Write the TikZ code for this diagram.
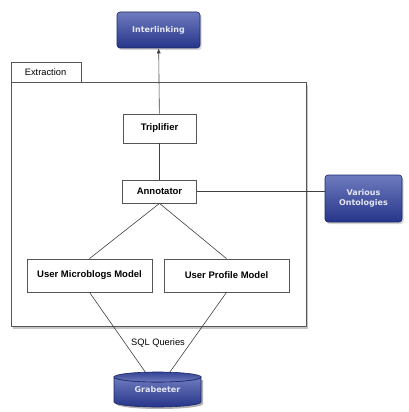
\documentclass[tikz,border=0pt]{standalone}
\usepackage{fontspec}
\setmainfont{Liberation Sans}
\newfontfamily\bluefont{DejaVu Sans}
\usetikzlibrary{shadows,arrows.meta,calc}
\definecolor{navytop}{HTML}{6E7BBE}
\definecolor{navybot}{HTML}{26358A}
\definecolor{navyline}{HTML}{1C2866}
\definecolor{bluetext}{HTML}{E4E7F2}
\definecolor{frameline}{HTML}{555555}
\tikzset{
  whitebox/.style={draw=frameline, line width=0.8pt, fill=white, font=\fontsize{9.5}{11}\selectfont\bfseries, inner sep=0pt},
  bluebox/.style={draw=navyline, line width=0.6pt, rounded corners=3pt, top color=navytop, bottom color=navybot, text=bluetext, font=\bluefont\fontsize{8}{10}\selectfont\bfseries, align=center, inner sep=0pt, drop shadow={shadow xshift=1.5pt, shadow yshift=-2pt, opacity=0.35}},
  conn/.style={draw=black!75, line width=0.6pt},
  plainlbl/.style={font=\fontsize{9.3}{11}\selectfont, inner sep=1pt}
}
\begin{document}
\begin{tikzpicture}[x=1pt,y=-1pt]
\useasboundingbox (0,0) rectangle (408,412);
% frame
\draw[frameline, line width=0.9pt, fill=white, drop shadow={shadow xshift=2pt, shadow yshift=-3pt, opacity=0.45}] (11,82) rectangle (306,326);
\draw[frameline, line width=0.9pt, fill=white] (11,62) rectangle (81,82);
\node[plainlbl] (extr) at (45.5,72) {Extraction};
% nodes
\node[bluebox, minimum width=83pt, minimum height=36pt] (inter) at (158.5,30) {Interlinking};
\node[whitebox, minimum width=73pt, minimum height=29pt] (trip) at (159.5,128.5) {Triplifier};
\node[whitebox, minimum width=74pt, minimum height=23pt] (ann) at (159.5,191.5) {Annotator};
\node[bluebox, minimum width=77pt, minimum height=47pt] (onto) at (363.5,198.5) {Various\\Ontologies};
\node[whitebox, minimum width=125pt, minimum height=33pt] (micro) at (89.5,275.5) {User Microblogs Model};
\node[whitebox, minimum width=125pt, minimum height=33pt] (prof) at (226.5,275.5) {User Profile Model};
% cylinder
\coordinate (cylc) at (157.5,389.5);
\fill[black, opacity=0.3] (116,380) -- (116,404) arc[start angle=180, end angle=360, x radius=43.5pt, y radius=5pt] -- (203,380) -- cycle;
\shade[top color=navytop, bottom color=navybot, draw=navyline, line width=0.6pt]
  (114,377) -- (114,402) arc[start angle=180, end angle=360, x radius=43.5pt, y radius=5pt] -- (201,377) arc[start angle=0, end angle=-180, x radius=43.5pt, y radius=5pt] -- cycle;
\shade[top color=navybot!80!navytop, bottom color=navytop, draw=navyline, line width=0.6pt] (157.5,377) ellipse[x radius=43.5pt, y radius=5pt];
\node[minimum width=87pt, minimum height=35pt, inner sep=0pt, text=bluetext, font=\bluefont\fontsize{8}{10}\selectfont\bfseries] (grab) at (cylc) {\raisebox{-3pt}{Grabeeter}};
% connectors
\draw[conn, -{Latex[length=5pt,width=4pt]}] (trip) -- (inter);
\draw[conn] (trip) -- (ann);
\draw[conn] (ann.east) -- (ann.east -| onto.west);
\draw[conn] (ann.south) -- (micro.north);
\draw[conn] (ann.south) -- (prof.north);
\draw[conn] (micro.south) -- (grab);
\draw[conn] (prof.south) -- (grab);
\node[plainlbl] (sql) at (158,343) {SQL Queries};
\end{tikzpicture}
\end{document}
